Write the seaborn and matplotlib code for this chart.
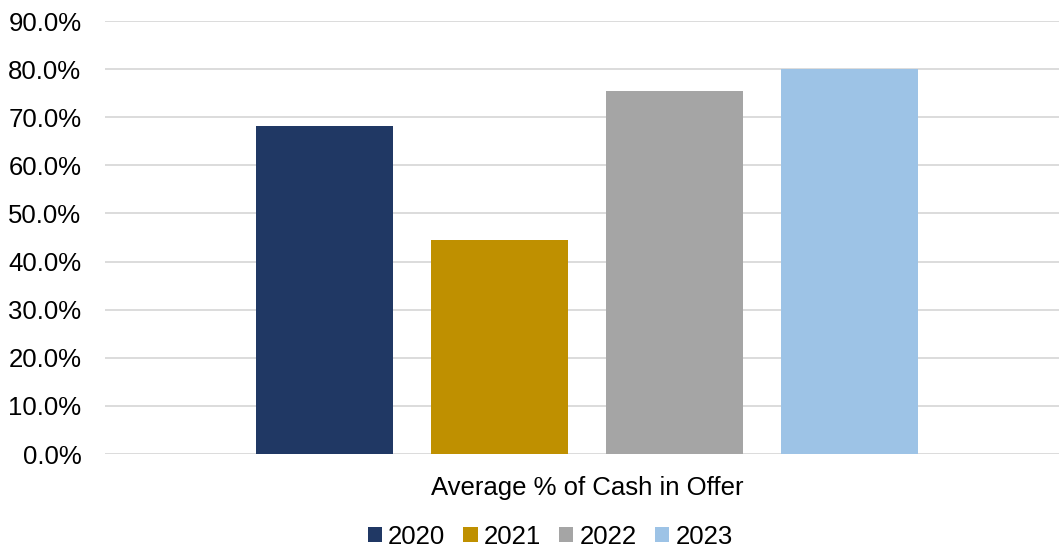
import matplotlib
matplotlib.use("Agg")
import matplotlib.pyplot as plt
from matplotlib.ticker import PercentFormatter
import pandas as pd
import seaborn as sns

# values
category = "Average % of Cash in Offer"
years = ["2020", "2021", "2022", "2023"]
cash_pct = [68.2, 44.4, 75.5, 80.0]
colors = ["#203864", "#BF9000", "#A5A5A5", "#9DC3E6"]

df = pd.DataFrame({"cat": [category] * len(years), "year": years, "pct": cash_pct})

sns.set_theme(style="white")
plt.rcParams["font.family"] = ["Liberation Sans", "DejaVu Sans"]

fig = plt.figure(figsize=(10.59, 5.5), dpi=100)
ax = fig.add_axes([0.0992, 0.1745, 0.9008, 0.7873])

sns.barplot(data=df, x="cat", y="pct", hue="year", palette=colors,
            saturation=1, width=0.734, gap=0.217, ax=ax, legend=True,
            linewidth=0, zorder=3)

ax.set_ylim(0, 90)
ax.set_xlim(-0.505, 0.495)
ax.set_yticks(range(0, 91, 10))
ax.yaxis.set_major_formatter(PercentFormatter(decimals=1))
ax.grid(axis="y", color="#D9D9D9", linewidth=1.3, zorder=0)
ax.set_axisbelow(True)
for s in ax.spines.values():
    s.set_visible(False)
ax.tick_params(axis="y", labelsize=18.5, colors="#000000", length=0, pad=17)
ax.tick_params(axis="x", labelsize=18.5, colors="#000000", length=0, pad=16)
ax.set_xlabel("")
ax.set_ylabel("")

ax.legend_.remove()
handles, labels = ax.get_legend_handles_labels()
fig.legend(handles, labels, loc="center", bbox_to_anchor=(0.5195, 0.024),
           ncol=4, frameon=False, fontsize=18.5, labelcolor="#000000",
           handlelength=0.55, handleheight=0.55, handletextpad=0.25,
           columnspacing=0.7)

fig.savefig("out.png", dpi=100)
